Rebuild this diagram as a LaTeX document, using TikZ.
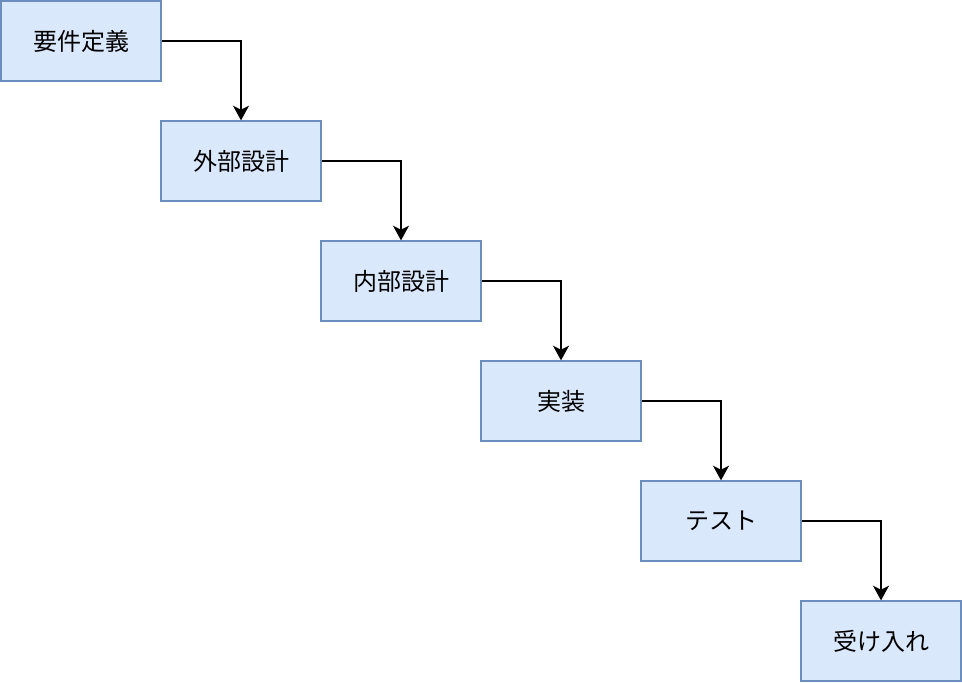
\documentclass[tikz,border=0pt]{standalone}
\usepackage{fontspec}
\setmainfont{Noto Sans CJK JP}
\usetikzlibrary{arrows.meta}

\begin{document}
\begin{tikzpicture}[x=0.75pt, y=-0.75pt]
        % Style des étapes
        \tikzstyle{etape}=[rectangle, draw=stroke, fill=remplissage, line width=1.3pt,
            minimum width=159.5*0.75pt, minimum height=79.5*0.75pt, inner sep=0pt, font=\fontsize{18pt}{20pt}\selectfont]
        \tikzstyle{fleche}=[draw=black, line width=1.3pt, -{Stealth[length=11pt, width=12pt, inset=3pt]}]
        \definecolor{remplissage}{HTML}{DAE8FC}
        \definecolor{stroke}{HTML}{6C8EBF}

        \useasboundingbox (0,0) rectangle (962,682);

        % Étapes
        \node[etape] (req) at (81, 41) {要件定義};
        \node[etape] (ext) at (241, 161) {外部設計};
        \node[etape] (int) at (401, 281) {内部設計};
        \node[etape] (impl) at (561, 401) {実装};
        \node[etape] (test) at (721, 521) {テスト};
        \node[etape] (acc) at (881, 641) {受け入れ};

        % Flèches
        \draw[fleche] (req.east) -| (ext.north);
        \draw[fleche] (ext.east) -| (int.north);
        \draw[fleche] (int.east) -| (impl.north);
        \draw[fleche] (impl.east) -| (test.north);
        \draw[fleche] (test.east) -| (acc.north);
    \end{tikzpicture}
\end{document}
